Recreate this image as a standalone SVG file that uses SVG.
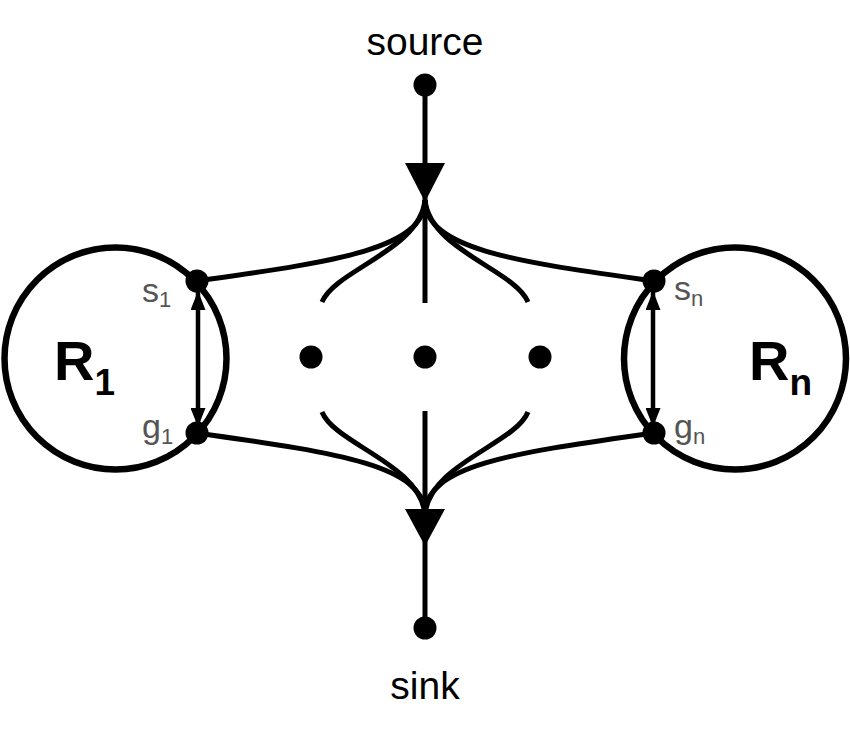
<svg xmlns="http://www.w3.org/2000/svg" width="850" height="735" viewBox="0 0 850 735">
<style>
.ring{fill:none;stroke:#000;stroke-width:6.5}
.edge{fill:none;stroke:#000;stroke-width:5}
.thin{fill:none;stroke:#000;stroke-width:4.5}
.dot{fill:#000}
.lbl{font-family:"Liberation Sans",Arial,sans-serif;fill:#000}
.port{font-family:"Liberation Sans",Arial,sans-serif;fill:#555}
.big{font-family:"Liberation Sans",Arial,sans-serif;font-weight:bold;fill:#000}
</style>
<defs>
<marker id="ah" viewBox="0 0 19 15" refX="19" refY="7.5" markerWidth="19" markerHeight="15" markerUnits="userSpaceOnUse" orient="auto-start-reverse">
<path d="M0,0 L19,7.5 L0,15 Z" fill="#000"/>
</marker>
</defs>
<rect width="850" height="735" fill="#fff"/>
<g id="connectors">
<line class="edge" x1="425" y1="85" x2="425" y2="200"/>
<polygon points="405,163 445,163 425,202" fill="#000"/>
<path class="edge" d="M425,200 C425,250 330,262 197,281"/>
<path class="edge" d="M425,200 C425,250 330,262 197,281" transform="translate(850,0) scale(-1,1)"/>
<path class="edge" d="M425,200 C420,250 335,270 322,302"/>
<path class="edge" d="M425,200 C420,250 335,270 322,302" transform="translate(850,0) scale(-1,1)"/>
<line class="edge" x1="425" y1="200" x2="425" y2="303"/>
<g transform="translate(0,714) scale(1,-1)">
<path class="edge" d="M425,200 C425,250 330,262 197,281"/>
<path class="edge" d="M425,200 C425,250 330,262 197,281" transform="translate(850,0) scale(-1,1)"/>
<path class="edge" d="M425,200 C420,250 335,270 322,302"/>
<path class="edge" d="M425,200 C420,250 335,270 322,302" transform="translate(850,0) scale(-1,1)"/>
<line class="edge" x1="425" y1="200" x2="425" y2="303"/>
</g>
<line class="edge" x1="425" y1="514" x2="425" y2="628"/>
<polygon points="405,509 445,509 425,546" fill="#000"/>
<line class="thin" x1="198" y1="291" x2="198" y2="427" marker-start="url(#ah)" marker-end="url(#ah)"/>
<line class="thin" x1="653" y1="291" x2="653" y2="427" marker-start="url(#ah)" marker-end="url(#ah)"/>
</g>
<g id="R1">
<circle class="ring" cx="115.5" cy="358.5" r="111"/>
<text class="big" x="54" y="380" font-size="56">R<tspan font-size="37" dy="15">1</tspan></text>
</g>
<g id="Rn">
<circle class="ring" cx="735" cy="358.5" r="111"/>
<text class="big" x="749" y="380" font-size="56">R<tspan font-size="37" dy="15">n</tspan></text>
</g>
<g id="s1"><circle class="dot" cx="197" cy="281" r="11.5"/><text class="port" x="142" y="302" font-size="34">s<tspan font-size="22" dy="5">1</tspan></text></g>
<g id="g1"><circle class="dot" cx="197" cy="433" r="11.5"/><text class="port" x="142" y="438" font-size="34">g<tspan font-size="22" dy="6">1</tspan></text></g>
<g id="sn"><circle class="dot" cx="654" cy="281" r="11.5"/><text class="port" x="674" y="300" font-size="34">s<tspan font-size="22" dy="6">n</tspan></text></g>
<g id="gn"><circle class="dot" cx="654" cy="433" r="11.5"/><text class="port" x="674" y="438" font-size="34">g<tspan font-size="22" dy="6">n</tspan></text></g>
<g id="source"><circle class="dot" cx="425" cy="85" r="11.5"/><text class="lbl" x="425" y="55" font-size="39" text-anchor="middle">source</text></g>
<g id="sink"><circle class="dot" cx="425" cy="628" r="11.5"/><text class="lbl" x="425" y="699" font-size="39" text-anchor="middle">sink</text></g>
<g id="ellipsis">
<circle class="dot" cx="311" cy="357" r="11.5"/>
<circle class="dot" cx="425" cy="357" r="11.5"/>
<circle class="dot" cx="540" cy="357" r="11.5"/>
</g>
</svg>
